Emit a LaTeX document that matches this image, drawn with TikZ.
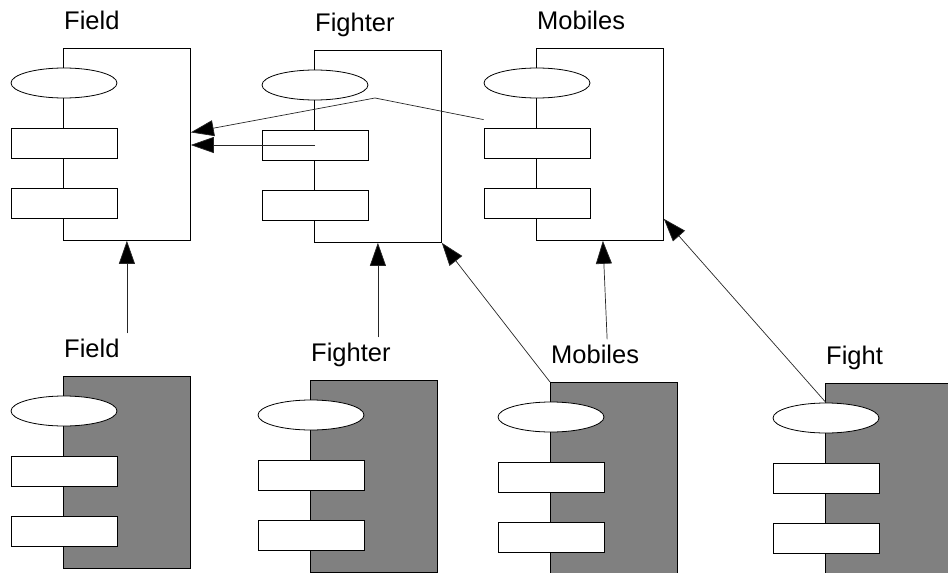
\documentclass[tikz,border=0pt]{standalone}
\usepackage{fontspec}
\setmainfont{Liberation Sans}
\usetikzlibrary{shapes.geometric,arrows.meta}

\begin{document}
\begin{tikzpicture}[x=1pt,y=-1pt,
  compbox/.style={draw, line width=0.8pt, inner sep=0pt, minimum width=127pt, minimum height=192pt, anchor=north west},
  hubell/.style={ellipse, draw, fill=white, line width=0.8pt, inner sep=0pt, minimum width=106pt, minimum height=30pt},
  portbox/.style={draw, fill=white, line width=0.8pt, inner sep=0pt, minimum width=106pt, minimum height=30pt},
  lbl/.style={anchor=base west, inner sep=0pt, font=\fontsize{25.5}{30}\selectfont},
  link/.style={draw=black!85, line width=0.7pt, -{Triangle[length=23pt,width=16pt,fill=black]}}]

\useasboundingbox (0,0) rectangle (948,573);

% components: name / left / top / label / fill
\foreach \n/\x/\y/\txt/\col in {fieldT/63/48/Field/white, fighterT/314/50/Fighter/white, mobilesT/536/48/Mobiles/white,
    fieldB/63/376/Field/gray, fighterB/310/380/Fighter/gray, mobilesB/550/382/Mobiles/gray, fightB/825/383/Fight/gray} {
  \node[compbox, fill=\col] (\n) at (\x,\y) {};
  \node[lbl] (\n-l) at (\x+1,\y-19) {\txt};
  \node[hubell] (\n-e) at (\x+1,\y+35) {};
  \node[portbox] (\n-a) at (\x+1,\y+95) {};
  \node[portbox] (\n-b) at (\x+1,\y+155) {};
}

% uses between the upper components
\coordinate (bend) at (375,98);
\draw[link] ([yshift=8pt]mobilesT-a.north west) -- (bend) -- ([yshift=12pt]fieldT.east);
\draw[link] (fighterT-a.center) -- (fighterT-a.center -| fieldT.east);

% lower components up to the upper ones
\draw[link] ([yshift=5pt]fieldB-l.north -| fieldT.south) -- (fieldT.south);
\draw[link] ([yshift=5pt]fighterB-l.north -| fighterT.south) -- (fighterT.south);
\draw[link] ([xshift=12pt,yshift=5pt]mobilesB-l.north) -- ([xshift=3pt]mobilesT.south);
\draw[link] (mobilesB.north west) -- (fighterT.south east);
\draw[link] (fightB-e.north) -- ([yshift=22pt]mobilesT.south east);
\end{tikzpicture}
\end{document}
